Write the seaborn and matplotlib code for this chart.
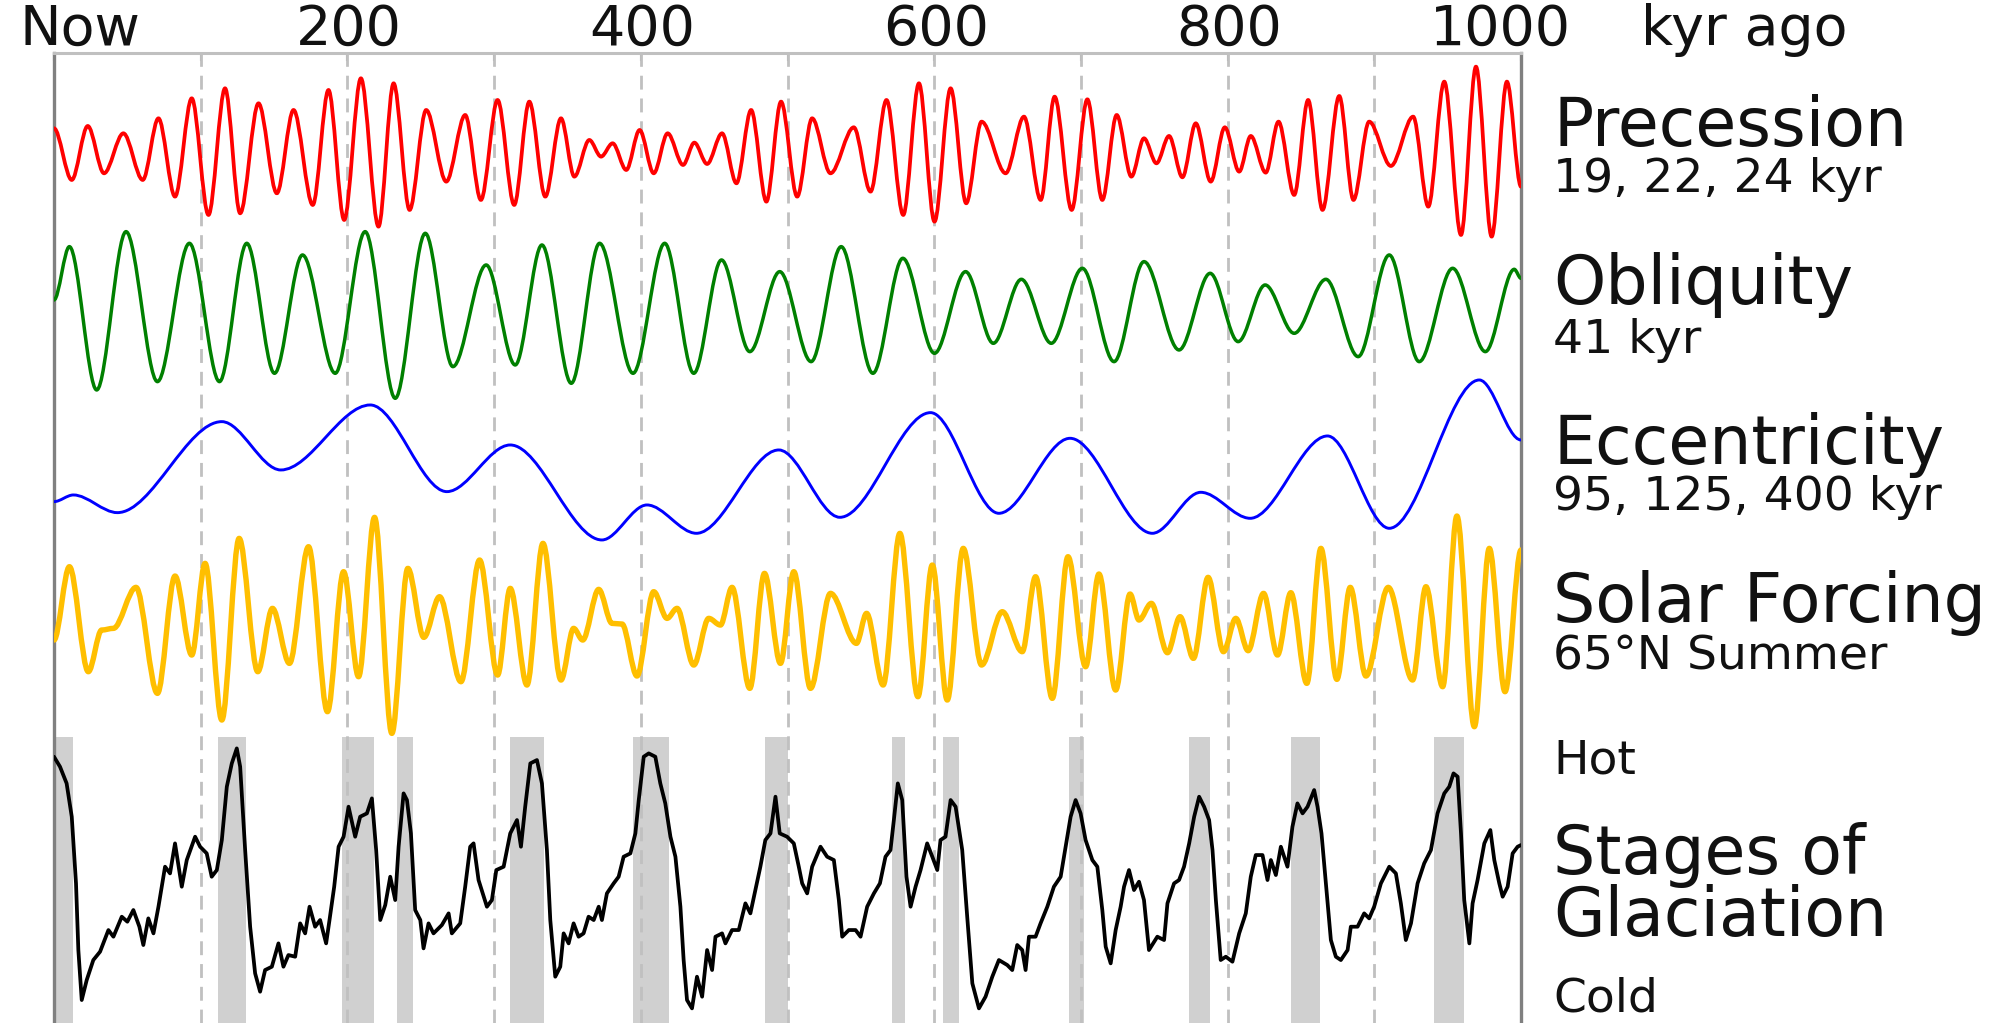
import matplotlib
matplotlib.use('Agg')
import matplotlib.pyplot as plt
from matplotlib.path import Path
from matplotlib.patches import PathPatch
from matplotlib.transforms import blended_transform_factory
import seaborn as sns

# ---- data (kyr ago, relative amplitude) ----
# smooth orbital curves: turning points
prec_kyr = [0, 12.1, 23.0, 34.1, 47.3, 60.5, 71.2, 82.5, 93.9, 105.3, 116.6, 126.9, 139.4, 151.9,
            163.3, 176.4, 187.1, 197.8, 209.2, 221.2, 231.5, 242.4, 253.7, 267.4, 280.3, 291.0,
            302.4, 313.7, 324.0, 334.9, 345.6, 354.7, 364.9, 372.9, 380.8, 390.1, 399.2, 408.8,
            418.3, 428.8, 436.5, 445.2, 455.4, 465.2, 475.2, 485.6, 495.6, 506.6, 516.8, 529.3,
            545.2, 556.6, 567.5, 578.9, 589.6, 600.2, 611.2, 621.8, 632.3, 648.7, 661.2, 672.6,
            682.1, 693.7, 704.4, 714.6, 724.4, 734.4, 743.0, 751.5, 760.1, 769.2, 778.3, 788.5,
            798.1, 807.9, 815.8, 826.0, 834.7, 845.4, 854.9, 864.7, 876.1, 885.8, 896.5, 911.3,
            926.5, 936.8, 947.7, 959.1, 969.3, 980.0, 990.4, 1000]
prec_val = [0.75, -0.80, 0.82, -0.60, 0.60, -0.80, 1.05, -1.30, 1.65, -1.85, 1.95, -1.80, 1.50, -1.20,
            1.30, -1.55, 1.90, -2.00, 2.25, -2.20, 2.10, -1.70, 1.30, -0.85, 1.15, -1.40,
            1.60, -1.55, 1.55, -1.30, 1.05, -0.70, 0.40, -0.10, 0.30, -0.50, 0.70, -0.60,
            0.60, -0.35, 0.32, -0.32, 0.60, -0.90, 1.30, -1.45, 1.55, -1.30, 1.05, -0.60,
            0.78, -1.15, 1.60, -1.85, 2.10, -2.05, 1.95, -1.50, 0.95, -0.60, 1.10, -1.40,
            1.70, -1.70, 1.62, -1.40, 1.15, -0.70, 0.45, -0.30, 0.52, -0.72, 0.90, -0.85,
            0.78, -0.55, 0.52, -0.58, 0.95, -1.25, 1.60, -1.70, 1.72, -1.40, 0.95, -0.38,
            1.10, -1.60, 2.15, -2.45, 2.60, -2.50, 2.15, -1.00]

obl_kyr = [0, 10.5, 29.1, 49.1, 70.5, 92.3, 112.8, 131.4, 150.3, 169.4, 191.7, 212.1, 232.6, 253.1,
           271.9, 294.6, 314.4, 332.6, 352.6, 371.9, 394.7, 416.3, 436.1, 455.0, 474.3, 494.7,
           516.1, 536.6, 558.2, 578.6, 600.2, 621.4, 640.3, 659.4, 679.8, 701.0, 722.6, 743.0,
           766.9, 788.1, 807.2, 825.6, 845.4, 867.0, 889.0, 910.2, 930.6, 953.4, 975.7, 995.4, 1000]
obl_val = [0.40, 2.00, -2.30, 2.45, -2.05, 2.10, -2.05, 2.10, -1.80, 1.75, -1.80, 2.45, -2.55, 2.40,
           -1.60, 1.45, -1.55, 2.05, -2.10, 2.10, -1.80, 2.10, -1.80, 1.60, -1.15, 1.25,
           -1.45, 2.00, -1.80, 1.65, -1.20, 1.25, -0.90, 1.02, -0.90, 1.35, -1.45, 1.55,
           -1.10, 1.20, -0.85, 0.85, -0.60, 1.02, -1.30, 1.75, -1.45, 1.35, -1.15, 1.32, 1.05]

ecc_kyr = [0, 13.2, 43.2, 114.4, 154.6, 215.6, 267.8, 311.0, 373.5, 404.2, 437.9, 494.1,
           535.7, 597.5, 644.1, 692.6, 748.7, 781.7, 815.4, 868.1, 910.2, 971.6, 1000]
ecc_val = [-0.85, -0.65, -1.18, 1.55, 0.10, 2.05, -0.55, 0.85, -2.00, -0.95, -1.80, 0.70,
           -1.32, 1.82, -1.20, 1.05, -1.80, -0.57, -1.35, 1.12, -1.65, 2.80, 1.00]

sol_kyr = [0, 10.5, 23.4, 32.5, 40.5, 55.9, 70.5, 82.5, 93.9, 103.0, 114.4, 126.2, 138.9, 148.9,
           160.5, 173.5, 186.4, 197.4, 207.6, 218.5, 230.3, 241.2, 252.1, 262.8, 277.4, 290.1,
           302.4, 311.0, 322.4, 333.3, 345.6, 354.2, 360.4, 371.3, 380.4, 387.2, 397.4, 408.8,
           417.9, 424.7, 436.1, 446.3, 454.3, 462.2, 474.3, 484.3, 495.2, 504.3, 515.7, 529.3,
           547.0, 553.9, 565.2, 576.6, 588.9, 598.7, 608.9, 619.8, 632.3, 646.4, 660.0, 669.1,
           680.5, 691.2, 703.2, 712.3, 723.7, 733.5, 739.6, 748.0, 759.0, 767.6, 776.7, 786.7,
           797.2, 805.6, 814.0, 824.5, 834.0, 843.1, 854.0, 863.6, 874.5, 883.6, 894.3, 909.5,
           926.1, 935.2, 946.6, 956.3, 968.2, 978.4, 989.1, 1000]
sol_val = [-0.40, 1.80, -1.35, -0.10, -0.05, 1.18, -2.00, 1.52, -0.85, 1.90, -2.80, 2.65, -1.35, 0.55,
           -1.10, 2.40, -2.55, 1.65, -1.50, 3.28, -3.20, 1.75, -0.32, 0.90, -1.65, 2.00,
           -1.45, 1.15, -1.75, 2.50, -1.60, -0.05, -0.40, 1.12, 0.10, 0.08, -1.48, 1.05,
           0.25, 0.55, -1.15, 0.25, 0.05, 1.18, -1.85, 1.60, -1.10, 1.65, -1.85, 1.00,
           -0.50, 0.40, -1.75, 2.80, -2.10, 1.85, -2.20, 2.35, -1.15, 0.45, -0.75, 1.50,
           -2.15, 2.10, -1.20, 1.58, -1.90, 0.98, 0.20, 0.70, -0.78, 0.30, -0.95, 1.48,
           -0.75, 0.25, -0.72, 1.00, -0.85, 1.02, -1.70, 2.35, -1.58, 1.18, -1.48, 1.18,
           -1.60, 1.20, -1.80, 3.32, -3.00, 2.35, -1.95, 2.30]

# glaciation record (0 = cold, high = hot)
glac_kyr = [0, 4.1, 8.6, 12.1, 15.0, 16.6, 18.9, 22.3, 26.8, 31.4, 37.1, 40.5, 46.2, 50.0, 54.1,
            58.2, 60.9, 64.3, 67.8, 71.2, 75.7, 79.1, 82.5, 87.1, 90.5, 96.2, 99.6, 104.1, 107.5,
            111.0, 114.4, 117.8, 121.2, 124.6, 126.9, 130.3, 133.7, 137.1, 140.5, 143.9, 148.5,
            153.0, 156.4, 159.8, 164.4, 167.8, 171.2, 174.2, 178.0, 181.4, 185.5, 187.8, 191.0,
            194.0, 197.4, 200.8, 205.3, 208.7, 213.3, 216.7, 219.6, 222.4, 225.8, 229.2, 232.6,
            234.9, 238.3, 240.6, 243.3, 246.2, 249.7, 251.9, 255.3, 258.7, 264.4, 269.0, 271.2,
            276.9, 280.3, 283.7, 286.0, 289.4, 295.1, 298.5, 301.5, 306.5, 311.0, 315.6, 318.3,
            321.2, 324.7, 329.2, 332.6, 336.0, 338.3, 341.7, 345.1, 347.4, 350.8, 354.2, 357.6,
            361.0, 364.4, 367.9, 371.3, 373.5, 376.9, 381.5, 384.9, 388.3, 392.9, 396.3, 398.6,
            402.0, 405.4, 409.9, 413.3, 416.7, 420.2, 423.6, 427.0, 429.2, 431.5, 434.9, 438.3,
            441.8, 445.2, 448.6, 450.9, 455.4, 457.7, 462.2, 466.8, 471.3, 474.7, 478.1, 481.5,
            484.9, 488.4, 491.8, 494.7, 499.7, 504.3, 507.7, 510.0, 513.4, 516.8, 522.5, 527.0,
            531.6, 535.0, 537.3, 541.8, 546.4, 549.8, 554.3, 558.9, 563.0, 566.8, 570.2, 572.5,
            575.2, 578.2, 581.1, 583.9, 587.3, 590.7, 595.2, 598.7, 602.1, 604.3, 607.7, 611.2,
            614.6, 619.1, 622.5, 626.0, 630.5, 635.0, 639.6, 644.1, 649.8, 653.2, 656.6, 660.0,
            662.3, 664.6, 669.1, 672.5, 677.1, 681.6, 686.2, 689.6, 693.0, 696.4, 699.8, 703.2,
            707.8, 711.2, 714.6, 716.9, 720.3, 723.7, 727.1, 729.4, 732.8, 736.2, 739.6, 743.0,
            746.4, 752.1, 756.7, 759.0, 763.5, 766.9, 770.3, 773.8, 777.2, 780.6, 784.0, 787.4,
            789.7, 792.0, 795.3, 798.8, 803.3, 807.9, 812.4, 815.8, 819.2, 823.8, 827.2, 829.5,
            832.9, 836.3, 840.8, 844.2, 847.6, 851.1, 854.5, 859.0, 861.3, 864.0, 867.0, 870.4,
            873.8, 877.2, 881.8, 884.0, 888.6, 893.1, 896.5, 899.9, 904.5, 910.2, 914.7, 918.1,
            921.5, 925.0, 929.5, 934.0, 938.6, 943.1, 947.7, 951.1, 954.0, 956.8, 959.1, 961.3,
            964.8, 967.0, 970.4, 975.0, 979.1, 981.8, 985.2, 987.5, 990.9, 994.3, 997.7, 1000]
glac_val = [7.50, 7.20, 6.70, 5.70, 3.70, 1.70, 0.20, 0.80, 1.40, 1.65, 2.30, 2.10, 2.70, 2.55, 2.90,
            2.40, 1.85, 2.65, 2.20, 3.00, 4.20, 4.00, 4.90, 3.60, 4.40, 5.10, 4.80, 4.60, 3.90,
            4.10, 5.00, 6.60, 7.30, 7.75, 7.20, 4.70, 2.40, 1.00, 0.45, 1.10, 1.20,
            1.90, 1.20, 1.55, 1.50, 2.50, 2.20, 3.00, 2.40, 2.60, 1.90, 2.60, 3.60,
            4.80, 5.10, 6.00, 5.10, 5.70, 5.80, 6.25, 4.70, 2.60, 3.05, 3.90, 3.20,
            4.80, 6.40, 6.20, 5.20, 2.90, 2.60, 1.75, 2.50, 2.20, 2.45, 2.80, 2.20,
            2.50, 3.60, 4.80, 4.90, 3.80, 3.00, 3.20, 4.10, 4.20, 5.20, 5.60, 4.80,
            6.00, 7.30, 7.40, 6.70, 4.70, 2.60, 0.90, 1.20, 2.20, 1.90, 2.50, 2.10,
            2.20, 2.70, 2.60, 3.00, 2.60, 3.40, 3.70, 3.90, 4.50, 4.60, 5.20, 6.20,
            7.50, 7.60, 7.50, 6.70, 6.10, 5.10, 4.50, 3.00, 1.40, 0.20, -0.05, 0.90,
            0.30, 1.70, 1.10, 2.10, 2.20, 1.90, 2.30, 2.30, 3.10, 2.80, 3.50, 4.20,
            5.00, 5.20, 6.30, 5.20, 5.10, 4.90, 4.20, 3.70, 3.40, 4.20, 4.80, 4.50,
            4.40, 3.20, 2.10, 2.30, 2.30, 2.10, 3.00, 3.40, 3.70, 4.50, 4.70, 5.60,
            6.70, 6.20, 3.90, 3.00, 3.60, 4.10, 4.90, 4.50, 4.10, 5.00, 5.10, 6.20,
            6.00, 4.70, 2.70, 0.70, -0.05, 0.30, 0.90, 1.40, 1.25, 1.10, 1.85, 1.70,
            1.10, 2.10, 2.10, 2.50, 3.00, 3.60, 3.90, 4.80, 5.70, 6.20, 5.80, 5.00,
            4.40, 4.20, 2.90, 1.80, 1.30, 2.30, 3.00, 3.60, 4.10, 3.50, 3.75, 3.20,
            1.70, 2.10, 2.00, 3.10, 3.70, 3.80, 4.20, 4.90, 5.70, 6.30, 6.00, 5.60,
            4.70, 3.20, 1.40, 1.50, 1.35, 2.20, 2.80, 3.90, 4.55, 4.55, 3.80, 4.40,
            3.95, 4.80, 4.20, 5.40, 6.10, 5.80, 6.00, 6.50, 6.00, 5.20, 3.70, 2.00,
            1.50, 1.40, 1.70, 2.40, 2.40, 2.80, 2.65, 3.00, 3.70, 4.20, 4.00, 3.10,
            2.00, 2.50, 3.70, 4.30, 4.70, 5.80, 6.40, 6.60, 7.00, 6.90, 5.20, 3.20,
            1.90, 3.10, 3.80, 4.90, 5.30, 4.40, 3.70, 3.30, 3.60, 4.60, 4.80, 4.85]

# interglacial shading (kyr ago)
band_start = [0, 112, 196, 234, 311, 395, 485, 571, 606, 692, 774, 843, 941]
band_end = [13, 131, 218, 245, 334, 419, 500, 580, 617, 702, 788, 863, 961]

top_ticks = [0, 200, 400, 600, 800, 1000]
top_labels = ['Now', '200', '400', '600', '800', '1000']

# ---- layout (figure pixels) ----
W, H = 2010, 1023
TOP = 53
UNIT = 33.33
BAND_TOP = 737


def smooth_path(xs, ys):
    # cubic segments with flat tangents at every turning point
    verts = [(xs[0], ys[0])]
    codes = [Path.MOVETO]
    for i in range(1, len(xs)):
        d = (xs[i] - xs[i - 1]) / 3.0
        verts += [(xs[i - 1] + d, ys[i - 1]), (xs[i] - d, ys[i]), (xs[i], ys[i])]
        codes += [Path.CURVE4] * 3
    return Path(verts, codes)


sns.set_style('white')
plt.rcParams['font.family'] = ['DejaVu Sans']

fig = plt.figure(figsize=(W / 100, H / 100), dpi=100)
ax = fig.add_axes([54 / W, 0, (1521 - 54) / W, (H - TOP) / H])
ax.set_xlim(0, 1000)
ax.set_ylim(H, TOP)

# shaded warm stages
for s, e in zip(band_start, band_end):
    ax.axvspan(s, e, ymin=0, ymax=(H - BAND_TOP) / (H - TOP), color='#d0d0d0', lw=0, zorder=1)

# dashed guides every 100 kyr
for x in range(100, 1000, 100):
    ax.axvline(x, color='#c0c0c0', lw=2, ls=(0, (5, 3.2)), zorder=2)

curves = [
    (prec_kyr, prec_val, 153.3, '#ff0000', 2.7),
    (obl_kyr, obl_val, 313.3, '#008000', 2.5),
    (ecc_kyr, ecc_val, 473.3, '#0000ff', 2.1),
    (sol_kyr, sol_val, 626.7, '#ffbf00', 3.9),
]
for xs, vals, center, col, lw in curves:
    ys = [center - v * UNIT for v in vals]
    ax.add_patch(PathPatch(smooth_path(xs, ys), facecolor='none', edgecolor=col,
                           lw=lw, capstyle='round', joinstyle='round', zorder=3))

glac_y = [1006.7 - v * UNIT for v in glac_val]
sns.lineplot(x=glac_kyr, y=glac_y, color='black', lw=2.7, sort=False, estimator=None,
             ax=ax, zorder=4)

# frame
for side in ['left', 'right']:
    ax.spines[side].set_color('#808080')
    ax.spines[side].set_linewidth(2.4)
ax.spines['top'].set_color('#c0c0c0')
ax.spines['top'].set_linewidth(2.2)
ax.spines['bottom'].set_visible(False)
ax.set_yticks([])
ax.set_xticks(range(0, 1001, 100))
ax.tick_params(axis='x', bottom=False, top=True, labelbottom=False, direction='in',
               length=6, width=1.5, color='#a0a0a0')
ax.set_xlabel('')
ax.set_ylabel('')

# top scale labels
tr = blended_transform_factory(ax.transData, fig.transFigure)
nudge = {0: 18, 1000: 986}
for t, lab in zip(top_ticks, top_labels):
    ax.text(nudge.get(t, t + 1), 1 - 45 / H, lab, transform=tr, ha='center', va='baseline',
            fontsize=40, color='#111111', clip_on=False)
ax.text(1082, 1 - 45 / H, 'kyr ago', transform=tr, ha='left', va='baseline',
        fontsize=40, color='#111111', clip_on=False)

# right-hand labels
right_labels = [
    ('Precession', 146, 48), ('19, 22, 24 kyr', 192, 34),
    ('Obliquity', 304, 48), ('41 kyr', 353, 34),
    ('Eccentricity', 464, 48), ('95, 125, 400 kyr', 510, 34),
    ('Solar Forcing', 622, 48), ('65°N Summer', 669, 34),
    ('Hot', 773, 34), ('Stages of', 874, 48), ('Glaciation', 936, 48),
    ('Cold', 1012, 34),
]
for txt, base, size in right_labels:
    fig.text(1553 / W, 1 - base / H, txt, ha='left', va='baseline', fontsize=size,
             color='#111111')

fig.savefig('out.png', dpi=100)
